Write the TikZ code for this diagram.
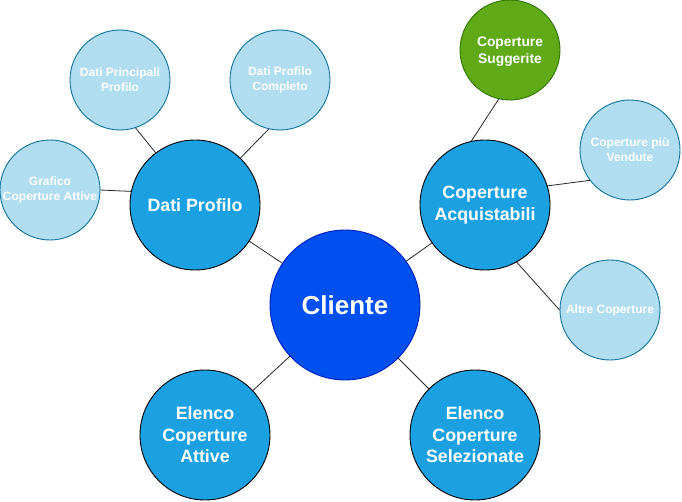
\documentclass[tikz,border=0pt]{standalone}
\usepackage{fontspec}
\setmainfont{Liberation Sans}
\definecolor{bluelight}{HTML}{B1DDF0}
\definecolor{bluelightline}{HTML}{10739E}
\definecolor{bluemid}{HTML}{1BA1E2}
\definecolor{clientefill}{HTML}{0050EF}
\definecolor{clienteline}{HTML}{001DBC}
\definecolor{greenfill}{HTML}{60A917}
\definecolor{greenline}{HTML}{2D7600}
\begin{document}
\begin{tikzpicture}[x=1pt, y=-1pt, line join=round, line cap=round,
  bolla/.style={circle, inner sep=0pt, align=center, text=white, line width=0.9pt},
  centrale/.style={bolla, minimum size=150pt, fill=clientefill, draw=clienteline, font=\fontsize{26}{30}\selectfont\bfseries},
  principale/.style={bolla, minimum size=130pt, fill=bluemid, draw=black, font=\fontsize{17.8}{21.5}\selectfont\bfseries},
  secondaria/.style={bolla, minimum size=100pt, fill=bluelight, draw=bluelightline, font=\fontsize{12}{15}\selectfont\bfseries},
  suggerita/.style={secondaria, fill=greenfill, draw=greenline, text depth=0pt, font=\fontsize{13.8}{17}\selectfont\bfseries},
  link/.style={draw=black!85, line width=0.8pt}]
\useasboundingbox (0,0) rectangle (682,502);
% Nodo centrale
\node[centrale] (cliente) at (345,305) {Cliente};
% Rami principali
\node[principale] (datiprofilo) at (195,205) {Dati Profilo};
\node[principale] (acquistabili) at (485,205) {Coperture\\Acquistabili};
\node[principale] (elencoattive) at (205,435) {Elenco\\Coperture\\Attive};
\node[principale] (elencosel) at (475,435) {Elenco\\Coperture\\Selezionate};
% Foglie di Dati Profilo
\node[secondaria] (principali) at (120,80) {Dati Principali\\Profilo};
\node[secondaria] (completo) at (280,80) {Dati Profilo\\Completo};
\node[secondaria] (grafico) at (50,190) {Grafico\\Coperture Attive};
% Foglie di Coperture Acquistabili
\node[suggerita] (suggerite) at (510,50) {Coperture\\Suggerite};
\node[secondaria] (vendute) at (630,150) {Coperture più\\Vendute};
\node[secondaria] (altre) at (610,310) {Altre Coperture};
% Collegamenti col centro
\draw[link] (cliente) -- (datiprofilo);
\draw[link] (cliente) -- (acquistabili);
\draw[link] (cliente) -- (elencoattive);
\draw[link] (cliente) -- (elencosel);
% Collegamenti delle foglie
\draw[link] (datiprofilo.127) -- (principali.-72);
\draw[link] (datiprofilo.46) -- (completo.-103);
\draw[link] (datiprofilo.168) -- (grafico.east);
\draw[link] (acquistabili.102) -- (suggerite.-103);
\draw[link] (acquistabili.17) -- (vendute.217);
\draw[link] (acquistabili.-61) -- (altre.west);
\end{tikzpicture}
\end{document}
